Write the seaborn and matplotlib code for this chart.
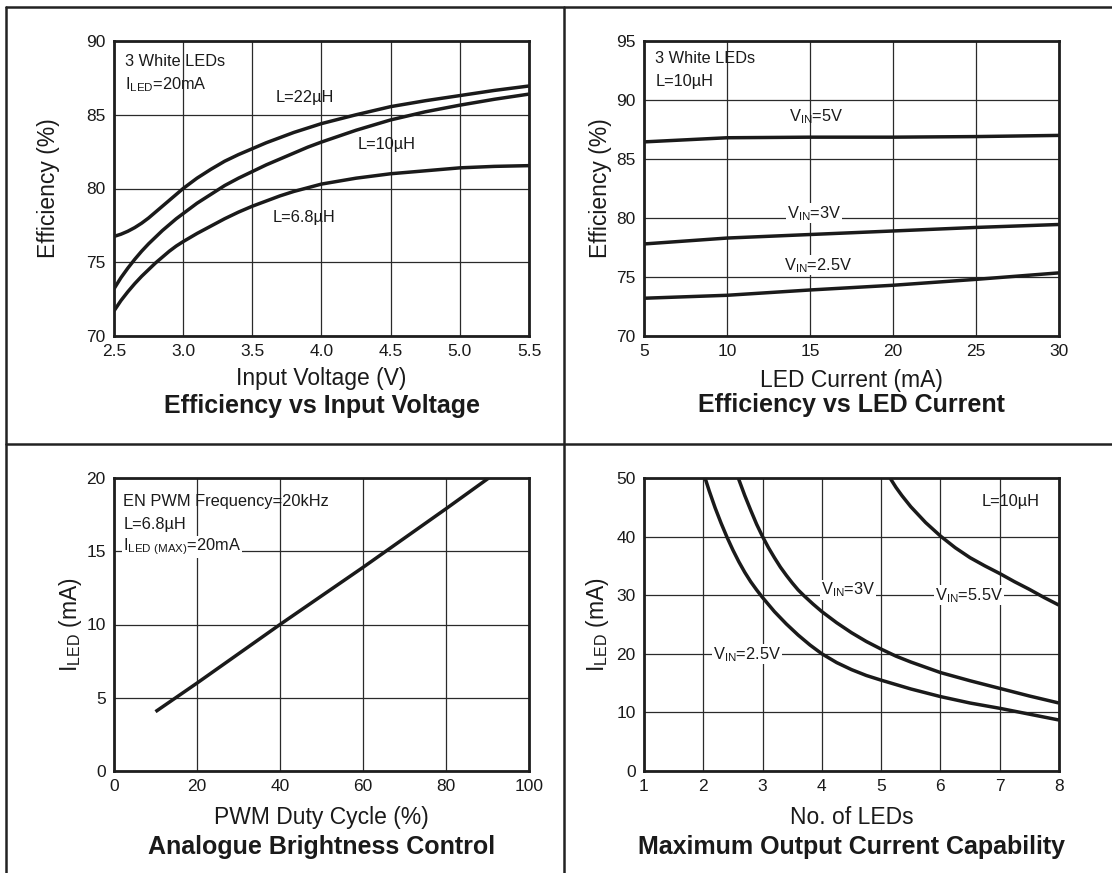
import matplotlib.pyplot as plt
import matplotlib.lines as mlines
import seaborn as sns

INK = "#1a1a1a"

sns.set_theme(style="white", rc={
    "axes.edgecolor": "#1e1e1e",
    "axes.linewidth": 2.0,
    "axes.labelcolor": INK,
    "text.color": INK,
    "grid.color": "#2a2a2a",
    "grid.linewidth": 0.9,
    "xtick.color": INK,
    "ytick.color": INK,
})
plt.rcParams['font.family'] = ['Liberation Sans', 'DejaVu Sans']
plt.rcParams['mathtext.fontset'] = 'custom'
plt.rcParams['mathtext.rm'] = 'Liberation Sans'

# --- Efficiency vs Input Voltage ---
vin = [2.5, 2.55, 2.6, 2.65, 2.7, 2.75, 2.8, 2.85, 2.9, 2.95, 3.0, 3.1, 3.2, 3.3, 3.4,
       3.5, 3.6, 3.7, 3.8, 3.9, 4.0, 4.25, 4.5, 4.75, 5.0, 5.25, 5.5]
eff_22uh = [76.75, 76.9, 77.1, 77.35, 77.65, 78.0, 78.4, 78.8, 79.2, 79.6, 80.0, 80.7, 81.3,
            81.85, 82.3, 82.7, 83.1, 83.45, 83.8, 84.1, 84.4, 85.0, 85.55, 85.95, 86.3,
            86.65, 86.95]
eff_10uh = [73.2, 73.95, 74.6, 75.2, 75.75, 76.25, 76.7, 77.15, 77.55, 77.95, 78.3, 79.0,
            79.6, 80.2, 80.7, 81.15, 81.6, 82.0, 82.4, 82.8, 83.15, 83.95, 84.65, 85.2,
            85.65, 86.05, 86.4]
eff_6u8h = [71.7, 72.4, 73.0, 73.55, 74.05, 74.5, 74.95, 75.35, 75.75, 76.1, 76.4, 76.95,
            77.45, 77.95, 78.4, 78.8, 79.15, 79.5, 79.8, 80.05, 80.3, 80.7, 81.0, 81.2,
            81.4, 81.5, 81.55]

# --- Efficiency vs LED Current ---
iled = [5, 10, 15, 20, 25, 30]
eff_vin5 = [86.45, 86.8, 86.85, 86.85, 86.9, 87.0]
eff_vin3 = [77.8, 78.3, 78.6, 78.9, 79.2, 79.45]
eff_vin25 = [73.2, 73.45, 73.9, 74.3, 74.8, 75.35]

# --- Analogue Brightness Control ---
duty = [10, 20, 40, 60, 80, 90.3]
iled_duty = [4.05, 6.0, 10.0, 13.9, 17.9, 20.0]

# --- Maximum Output Current Capability ---
n_25 = [2.03, 2.1, 2.2, 2.3, 2.4, 2.5, 2.6, 2.7, 2.8, 2.9, 3.0, 3.2, 3.4, 3.6, 3.8, 4.0,
        4.25, 4.5, 4.75, 5.0, 5.5, 6.0, 6.5, 7.0, 7.5, 8.0]
i_25 = [50, 47.8, 44.9, 42.3, 39.9, 37.7, 35.7, 33.9, 32.3, 30.9, 29.6, 27.2, 25.1, 23.2,
        21.5, 20.0, 18.5, 17.3, 16.3, 15.5, 14.0, 12.7, 11.6, 10.7, 9.7, 8.7]
n_3 = [2.59, 2.7, 2.8, 2.9, 3.0, 3.1, 3.2, 3.3, 3.4, 3.5, 3.6, 3.7, 3.85, 4.0, 4.25, 4.5,
       4.75, 5.0, 5.25, 5.5, 5.75, 6.0, 6.5, 7.0, 7.5, 8.0]
i_3 = [50, 47.0, 44.5, 42.1, 40.0, 38.1, 36.4, 34.8, 33.4, 32.1, 30.9, 29.9, 28.5, 27.2,
       25.3, 23.6, 22.1, 20.8, 19.6, 18.6, 17.7, 16.8, 15.4, 14.1, 12.8, 11.6]
n_55 = [5.15, 5.25, 5.35, 5.5, 5.75, 6.0, 6.25, 6.5, 6.75, 7.0, 7.25, 7.5, 7.75, 8.0]
i_55 = [50, 48.4, 47.0, 45.1, 42.4, 40.1, 38.1, 36.4, 35.0, 33.7, 32.3, 31.0, 29.6, 28.3]

W, H = 1112, 873
fig = plt.figure(figsize=(W / 100, H / 100), dpi=100)

TICK_FS, LABEL_FS, TITLE_FS, NOTE_FS = 12.5, 16.5, 18, 11.8


def px_axes(x0, y0, x1, y1):
    return fig.add_axes([x0 / W, 1 - y1 / H, (x1 - x0) / W, (y1 - y0) / H])


def curve(ax, x, y):
    sns.lineplot(x=x, y=y, ax=ax, color=INK, lw=2.5, zorder=4,
                 solid_joinstyle="round", solid_capstyle="butt")


def style(ax, xlim, ylim, xticks, yticks, xtl, xlabel, ylabel, title, xl_y, t_y, yl_x):
    ax.set_xlim(*xlim)
    ax.set_ylim(*ylim)
    ax.set_xticks(xticks)
    ax.set_yticks(yticks)
    ax.set_xticklabels(xtl)
    ax.grid(True)
    ax.tick_params(length=0, pad=6, labelsize=TICK_FS)
    for s in ax.spines.values():
        s.set_visible(True)
        s.set_zorder(5)
    ax.set_xlabel(xlabel, fontsize=LABEL_FS, va="center")
    ax.xaxis.set_label_coords(0.5, xl_y)
    ax.set_ylabel(ylabel, fontsize=LABEL_FS, va="center")
    ax.yaxis.set_label_coords(yl_x, 0.5)
    ax.text(0.5, t_y, title, transform=ax.transAxes, ha="center", va="center",
            fontsize=TITLE_FS, fontweight="bold")


def note(ax, x, y, s, box=False, **kw):
    bb = dict(facecolor="white", edgecolor="none", pad=0.5) if box else None
    ax.text(x, y, s, fontsize=NOTE_FS, bbox=bb, zorder=3, **kw)


# panel 1
ax1 = px_axes(114, 41, 529, 336)
for y in (eff_22uh, eff_10uh, eff_6u8h):
    curve(ax1, vin, y)
style(ax1, (2.5, 5.5), (70, 90), [2.5, 3.0, 3.5, 4.0, 4.5, 5.0, 5.5], [70, 75, 80, 85, 90],
      ["2.5", "3.0", "3.5", "4.0", "4.5", "5.0", "5.5"],
      "Input Voltage (V)", "Efficiency (%)", "Efficiency vs Input Voltage",
      -0.145, -0.238, -0.159)
note(ax1, 2.576, 88.6, "3 White LEDs", va="center")
note(ax1, 2.576, 86.75, r"$\mathregular{I_{LED}}$=20mA", va="baseline")
note(ax1, 3.88, 86.15, "L=22µH", ha="center", va="center")
note(ax1, 4.47, 82.96, "L=10µH", ha="center", va="center")
note(ax1, 3.87, 78.05, "L=6.8µH", ha="center", va="center")

# panel 2
ax2 = px_axes(644, 41, 1059, 336)
for y in (eff_vin5, eff_vin3, eff_vin25):
    curve(ax2, iled, y)
style(ax2, (5, 30), (70, 95), [5, 10, 15, 20, 25, 30], [70, 75, 80, 85, 90, 95],
      ["5", "10", "15", "20", "25", "30"],
      "LED Current (mA)", "Efficiency (%)", "Efficiency vs LED Current",
      -0.15, -0.234, -0.106)
note(ax2, 5.68, 93.5, "3 White LEDs", va="center")
note(ax2, 5.68, 91.6, "L=10µH", va="center")
note(ax2, 15.4, 88.6, r"$\mathregular{V_{IN}}$=5V", ha="center", va="center")
note(ax2, 15.25, 80.0, r"$\mathregular{V_{IN}}$=3V", box=True, ha="center", va="baseline")
note(ax2, 15.5, 75.6, r"$\mathregular{V_{IN}}$=2.5V", box=True, ha="center", va="baseline")

# panel 3
ax3 = px_axes(114, 478, 529, 771)
curve(ax3, duty, iled_duty)
style(ax3, (0, 100), (0, 20), [0, 20, 40, 60, 80, 100], [0, 5, 10, 15, 20],
      ["0", "20", "40", "60", "80", "100"],
      "PWM Duty Cycle (%)", r"$\mathregular{I_{LED}}$ (mA)", "Analogue Brightness Control",
      -0.16, -0.259, -0.104)
note(ax3, 2.2, 18.4, "EN PWM Frequency=20kHz", va="center")
note(ax3, 2.2, 16.8, "L=6.8µH", va="center")
note(ax3, 2.2, 15.05, r"$\mathregular{I_{LED\ (MAX)}}$=20mA", box=True, va="baseline")

# panel 4
ax4 = px_axes(644, 478, 1059, 771)
for x, y in ((n_25, i_25), (n_3, i_3), (n_55, i_55)):
    curve(ax4, x, y)
style(ax4, (1, 8), (0, 50), [1, 2, 3, 4, 5, 6, 7, 8], [0, 10, 20, 30, 40, 50],
      [str(i) for i in range(1, 9)],
      "No. of LEDs", r"$\mathregular{I_{LED}}$ (mA)", "Maximum Output Current Capability",
      -0.16, -0.259, -0.113)
note(ax4, 7.19, 46, "L=10µH", ha="center", va="center")
note(ax4, 4.44, 30.1, r"$\mathregular{V_{IN}}$=3V", box=True, ha="center", va="baseline")
note(ax4, 6.48, 29.2, r"$\mathregular{V_{IN}}$=5.5V", box=True, ha="center", va="baseline")
note(ax4, 2.74, 19.1, r"$\mathregular{V_{IN}}$=2.5V", box=True, ha="center", va="baseline")

# outer frame and dividers
for (xa, ya), (xb, yb) in [((6, 7), (W, 7)), ((6, 7), (6, H)),
                           ((564, 7), (564, H)), ((6, 444), (W, 444))]:
    fig.add_artist(mlines.Line2D([xa / W, xb / W], [1 - ya / H, 1 - yb / H],
                                 color="#222222", lw=1.8))

fig.savefig("out.png", dpi=100)
